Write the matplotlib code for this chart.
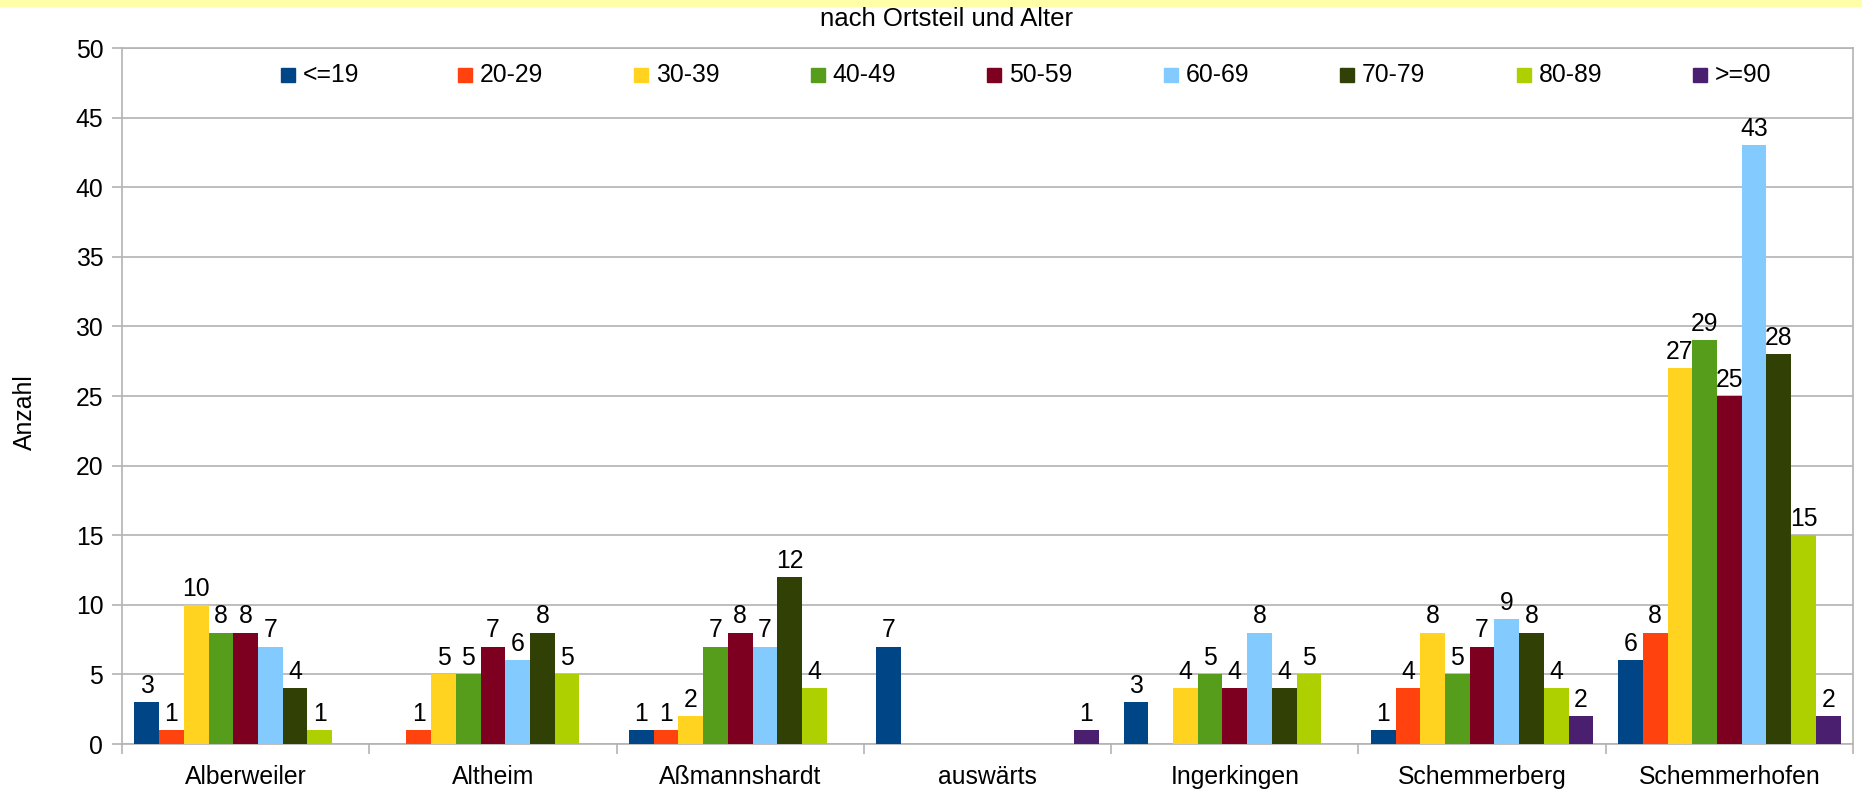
import numpy as np
import matplotlib.pyplot as plt
from matplotlib.patches import Rectangle
from matplotlib.ticker import FixedLocator

plt.rcParams['font.family'] = ['Liberation Sans', 'DejaVu Sans']

ortsteile = ['Alberweiler', 'Altheim', 'Aßmannshardt', 'auswärts',
             'Ingerkingen', 'Schemmerberg', 'Schemmerhofen']
gruppen = ['<=19', '20-29', '30-39', '40-49', '50-59',
           '60-69', '70-79', '80-89', '>=90']
farben = ['#004586', '#ff420e', '#ffd320', '#579d1c', '#7e0021',
          '#83caff', '#314004', '#aecf00', '#4b1f6f']

u19 = [3, 0, 1, 7, 3, 1, 6]
a20 = [1, 1, 1, 0, 0, 4, 8]
a30 = [10, 5, 2, 0, 4, 8, 27]
a40 = [8, 5, 7, 0, 5, 5, 29]
a50 = [8, 7, 8, 0, 4, 7, 25]
a60 = [7, 6, 7, 0, 8, 9, 43]
a70 = [4, 8, 12, 0, 4, 8, 28]
a80 = [1, 5, 4, 0, 5, 4, 15]
u90 = [0, 0, 0, 1, 0, 2, 2]
werte = [u19, a20, a30, a40, a50, a60, a70, a80, u90]

W, H = 1862, 790
fig = plt.figure(figsize=(W / 100, H / 100), dpi=100)
ax = fig.add_axes([122 / W, 1 - 744 / H, (1853 - 122) / W, (744 - 48) / H])

grau = '#b3b3b3'
fs = 17.8
x = np.arange(len(ortsteile))
bw = 0.1
for i, (name, vals, col) in enumerate(zip(gruppen, werte, farben)):
    pos = x - 0.4 + i * bw
    bars = ax.bar(pos, vals, width=bw, color=col, zorder=3)
    labels = [str(v) if v > 0 else '' for v in vals]
    ax.bar_label(bars, labels=labels, padding=3, fontsize=fs, color='black')

ax.set_xlim(-0.5, len(ortsteile) - 0.5)
ax.set_ylim(0, 50)
ax.set_yticks(np.arange(0, 51, 5))
ax.yaxis.grid(True, color=grau, linewidth=1.2, zorder=0)
ax.set_xticks(x)
ax.set_xticklabels(ortsteile, fontsize=fs)
ax.xaxis.set_minor_locator(FixedLocator(np.arange(-0.5, len(ortsteile), 1)))
ax.tick_params(axis='x', which='major', length=0, pad=15)
ax.tick_params(axis='x', which='minor', length=7.5, color=grau, width=1.2)
ax.tick_params(axis='y', length=7.5, color=grau, width=1.2, labelsize=fs, pad=6)
for s in ax.spines.values():
    s.set_color(grau)
    s.set_linewidth(1.2)

# Legende oben im Diagramm
for i, (name, col) in enumerate(zip(gruppen, farben)):
    x0 = 281 + 176.5 * i
    fig.patches.append(Rectangle((x0 / W, 1 - 82 / H), 14 / W, 14 / H,
                                 transform=fig.transFigure, color=col))
    fig.text((x0 + 22) / W, 1 - 75 / H, name, fontsize=fs, va='center')

fig.patches.append(Rectangle((0, 1 - 6 / H), 1, 6 / H, transform=fig.transFigure,
                             color='#ffffa8', zorder=0))
fig.text(946 / W, 1 - 19 / H, 'nach Ortsteil und Alter', fontsize=18.5,
         ha='center', va='center')
fig.text(25 / W, 1 - 412 / H, 'Anzahl', fontsize=fs, rotation=90,
         ha='center', va='center')

fig.savefig('out.png', dpi=100)
